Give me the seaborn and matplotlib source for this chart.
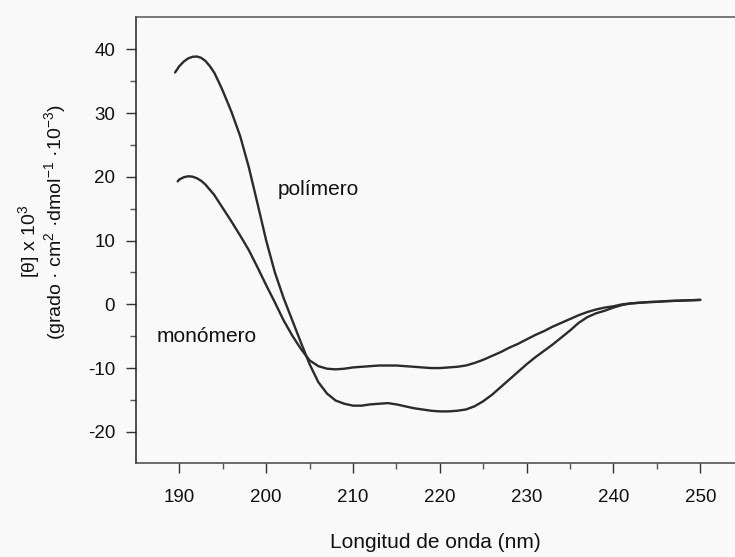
import matplotlib
matplotlib.use("Agg")
import matplotlib.pyplot as plt
import numpy as np
import pandas as pd
import seaborn as sns
from matplotlib.ticker import FixedLocator

# ---- data ----
wl_polimero = [189.5, 190, 190.5, 191, 191.5, 192, 192.5, 193, 193.5, 194, 194.5, 195,
               196, 197, 198, 199, 200,
               201, 202, 203, 204, 205, 206, 207, 208, 209, 210,
               211, 212, 213, 214, 215, 216, 217, 218, 219, 220,
               221, 222, 223, 224, 225, 226, 227, 228, 229, 230,
               231, 232, 233, 234, 235, 236, 237, 238, 239, 240,
               241, 242, 243, 244, 245, 246, 247, 248, 249, 250]
theta_polimero = [36.4, 37.4, 38.1, 38.6, 38.85, 38.9, 38.7, 38.2, 37.4, 36.4, 35.0, 33.5,
                  30.2, 26.4, 21.5, 15.8, 10.0,
                  5.0, 1.0, -2.5, -6.0, -9.4, -12.2, -14.0, -15.1, -15.6, -15.9,
                  -15.9, -15.7, -15.6, -15.5, -15.7, -16.0, -16.3, -16.5, -16.7, -16.8,
                  -16.8, -16.7, -16.5, -16.0, -15.2, -14.2, -13.0, -11.8, -10.6, -9.4,
                  -8.3, -7.3, -6.3, -5.2, -4.1, -2.9, -2.0, -1.4, -1.0, -0.5,
                  -0.1, 0.15, 0.25, 0.35, 0.4, 0.5, 0.55, 0.6, 0.65, 0.7]

wl_monomero = [189.8, 190, 190.5, 191, 191.5, 192, 192.5, 193, 194, 195,
               196, 197, 198, 199, 200,
               201, 202, 203, 204, 205, 206, 207, 208, 209, 210,
               211, 212, 213, 214, 215, 216, 217, 218, 219, 220,
               221, 222, 223, 224, 225, 226, 227, 228, 229, 230,
               231, 232, 233, 234, 235, 236, 237, 238, 239, 240,
               241, 242, 243, 244, 245, 246, 247, 248, 249, 250]
theta_monomero = [19.3, 19.6, 19.95, 20.1, 20.05, 19.8, 19.4, 18.8, 17.2, 15.1,
                  13.0, 10.8, 8.5, 5.8, 3.0,
                  0.3, -2.5, -4.9, -7.0, -8.8, -9.7, -10.1, -10.2, -10.1, -9.9,
                  -9.8, -9.7, -9.6, -9.6, -9.6, -9.7, -9.8, -9.9, -10.0, -10.0,
                  -9.9, -9.8, -9.6, -9.2, -8.7, -8.1, -7.5, -6.8, -6.2, -5.5,
                  -4.8, -4.2, -3.5, -2.9, -2.3, -1.7, -1.2, -0.8, -0.5, -0.3,
                  0.0, 0.15, 0.25, 0.35, 0.4, 0.5, 0.55, 0.6, 0.65, 0.7]

x_major = [190, 200, 210, 220, 230, 240, 250]
x_minor = [195, 205, 215, 225, 235, 245]
y_major = [-20, -10, 0, 10, 20, 30, 40]
y_minor = [-15, -5, 5, 15, 25, 35]

label_pol = "polímero"
label_mon = "monómero"
xlabel = "Longitud de onda (nm)"
ylabel1 = r"[θ] x 10$\mathregular{^{3}}$"
ylabel2 = r"(grado · cm$\mathregular{^{2}}$ ·dmol$\mathregular{^{-1}}$ ·10$\mathregular{^{-3}}$)"

# ---- style ----
sns.set_theme(style="ticks")
plt.rcParams["font.family"] = ["Liberation Sans", "DejaVu Sans"]
plt.rcParams["mathtext.fontset"] = "custom"
plt.rcParams["mathtext.rm"] = "Liberation Sans"
plt.rcParams["axes.unicode_minus"] = False

bg = "#f9f9f9"
ink = "#2b2b2b"

df = pd.concat([
    pd.DataFrame({"wl": wl_polimero, "theta": theta_polimero, "serie": label_pol}),
    pd.DataFrame({"wl": wl_monomero, "theta": theta_monomero, "serie": label_mon}),
], ignore_index=True)

fig = plt.figure(figsize=(7.35, 5.57), dpi=100, facecolor=bg)
ax = fig.add_axes([136 / 735, 94 / 557, 599 / 735, 446 / 557])
ax.set_facecolor(bg)

sns.lineplot(data=df, x="wl", y="theta", hue="serie",
             palette={label_pol: ink, label_mon: ink},
             estimator=None, sort=False, legend=False, ax=ax, linewidth=1.7)
for ln in ax.lines:
    ln.set_solid_joinstyle("round")
    ln.set_solid_capstyle("round")

ax.set_xlim(185.0, 254.0)
ax.set_ylim(-24.9, 45.1)
ax.xaxis.set_major_locator(FixedLocator(x_major))
ax.xaxis.set_minor_locator(FixedLocator(x_minor))
ax.yaxis.set_major_locator(FixedLocator(y_major))
ax.yaxis.set_minor_locator(FixedLocator(y_minor))

ax.tick_params(axis="both", which="major", direction="out", length=7, width=1.0,
               color="#333333", labelsize=13.5, labelcolor="#111111")
ax.tick_params(axis="both", which="minor", direction="out", length=4, width=1.0,
               color="#555555")
ax.tick_params(axis="x", which="major", pad=12)
ax.tick_params(axis="y", which="major", pad=8)

for side in ["left", "bottom", "top"]:
    ax.spines[side].set_color("#222222")
    ax.spines[side].set_linewidth(1.1)
ax.spines["top"].set_color("#555555")
ax.spines["bottom"].set_color("#444444")
ax.spines["right"].set_visible(False)

ax.set_xlabel(xlabel, fontsize=15, color="#111111")
ax.set_ylabel("")
ax.xaxis.set_label_coords(0.5, -0.179)
ax.xaxis.label.set_va("center")

ax.text(206.0, 18.0, label_pol, ha="center", va="center", fontsize=15, color="#111111")
ax.text(193.1, -5.1, label_mon, ha="center", va="center", fontsize=15, color="#111111")

fig.text(29 / 735, 1 - 241 / 557, ylabel1, rotation=90, ha="center", va="center",
         fontsize=14, color="#111111")
fig.text(55 / 735, 1 - 222 / 557, ylabel2, rotation=90, ha="center", va="center",
         fontsize=14, color="#111111")

fig.savefig("out.png", dpi=100, facecolor=bg)
